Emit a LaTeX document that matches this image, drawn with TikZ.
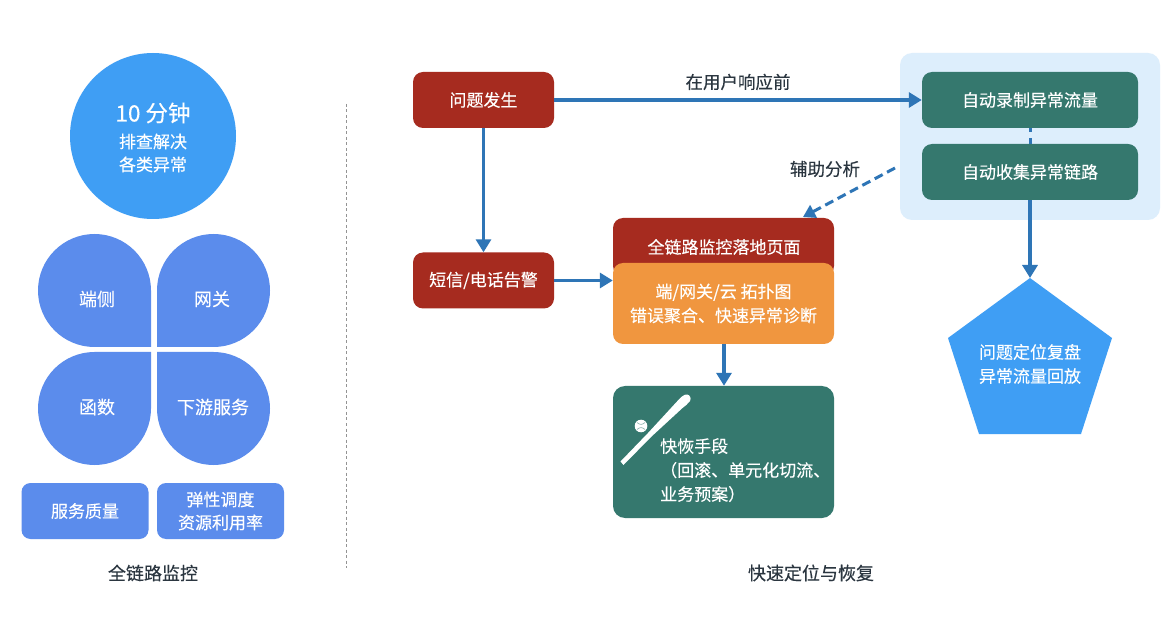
\documentclass[tikz,border=0pt]{standalone}
\usepackage{fontspec}
\setmainfont[FakeBold=0.25]{Noto Sans CJK SC}
\usetikzlibrary{arrows.meta}
\definecolor{skyblue}{HTML}{3F9EF4}
\definecolor{petal}{HTML}{5B8CEC}
\definecolor{brick}{HTML}{A62B1F}
\definecolor{amber}{HTML}{F0963F}
\definecolor{teal2}{HTML}{35786E}
\definecolor{panel}{HTML}{DDEEFC}
\definecolor{arrowblue}{HTML}{2E75B6}
\definecolor{inktext}{HTML}{2B3640}
\tikzset{
  lbl/.style={font=\fontsize{17}{24}\selectfont,text=white,align=center,inner sep=0pt},
  petallbl/.style={lbl,font=\fontsize{18}{24}\selectfont},
  dark/.style={font=\fontsize{18}{24}\selectfont,text=inktext,align=center,inner sep=0pt},
  rbox/.style={lbl,rounded corners=10pt,minimum height=56pt,minimum width=141pt},
  redbox/.style={rbox,fill=brick},
  greenbox/.style={rbox,fill=teal2,minimum width=216pt},
  smallbox/.style={rbox,fill=petal,minimum width=127pt,rounded corners=9pt},
  flow/.style={draw=arrowblue,line width=3.2pt,-{Triangle[length=13pt,width=15pt]}},
  petalshape/.style={fill=petal,draw=none}
}
\begin{document}
\begin{tikzpicture}[x=1pt,y=-1pt]
\useasboundingbox (0,0) rectangle (1176,620);
\fill[white] (0,0) rectangle (1176,620);
% left column
\node[circle,fill=skyblue,minimum size=166pt,inner sep=0pt] (goal) at (153,136) {};
\node[lbl,font=\fontsize{22.5}{26}\selectfont] (goalA) at (153,113) {10 分钟};
\node[lbl,font=\fontsize{17}{23}\selectfont] (goalB) at (153,153) {排查解决\\各类异常};
\path[petalshape] (151,347) -- (94.5,347) arc[start angle=270,end angle=0,radius=56.5pt] -- cycle;
\path[petalshape] (157,347) -- (157,290.5) arc[start angle=180,end angle=-90,radius=56.5pt] -- cycle;
\path[petalshape] (151,352) -- (151,408.5) arc[start angle=0,end angle=-270,radius=56.5pt] -- cycle;
\path[petalshape] (157,352) -- (213.5,352) arc[start angle=90,end angle=-180,radius=56.5pt] -- cycle;
\node[petallbl] (p1) at (97,299) {端侧};
\node[petallbl] (p2) at (212,299) {网关};
\node[petallbl] (p3) at (97,407) {函数};
\node[petallbl] (p4) at (213,407) {下游服务};
\node[smallbox] (q1) at (85,511) {服务质量};
\node[smallbox,font=\fontsize{17}{23}\selectfont] (q2) at (220.5,511) {弹性调度\\资源利用率};
\node[dark] (leftcap) at (153,573) {全链路监控};
\draw[draw=gray!85,line width=1.6pt,dash pattern=on 3pt off 2.5pt] (346.5,104) -- (346.5,568);
% right panel
\node[fill=panel,rounded corners=12pt,minimum width=260pt,minimum height=167pt,inner sep=0pt] (panelbg) at (1030,136.5) {};
\node[greenbox] (g1) at (1030,100) {自动录制异常流量};
\node[greenbox] (g2) at (1030,172) {自动收集异常链路};
% pentagon
\fill[skyblue] (1030,278) -- (1112,338) -- (1081,434) -- (979,434) -- (948,338) -- cycle;
\coordinate (pentop) at (1030,278);
\node[lbl] (pentext) at (1030,364) {问题定位复盘\\异常流量回放};
% flow boxes
\node[redbox] (r1) at (483.5,100) {问题发生};
\node[redbox] (r2) at (483.5,280.5) {短信/电话告警};
\node[rbox,fill=brick,minimum width=221pt,minimum height=58pt] (land) at (723.5,247) {};
\node[lbl] (landt) at (724,247) {全链路监控落地页面};
\node[rbox,fill=amber,minimum width=221pt,minimum height=81pt] (orange) at (723.5,303.5) {端/网关/云 拓扑图\\错误聚合、快速异常诊断};
\node[rbox,fill=teal2,minimum width=221pt,minimum height=132pt,rounded corners=12pt] (quick) at (723.5,452) {};
\node[lbl,align=left,anchor=north west] (quickt) at (660,438) {快恢手段\\（回滚、单元化切流、\\业务预案）};
% bat and ball
\fill[white,line join=round] (623.5,465) -- (620.5,461.5) -- (648,433) -- (677,401.5) .. controls (680,398) and (684,394) .. (687,394.5) .. controls (690,395) and (691.5,398) .. (690,401) .. controls (688,404) and (685,406) .. (682.5,408) -- (651,437) -- cycle;
\fill[white] (641,426) circle (6.3pt);
\draw[teal2!60,line width=.6pt] (637,422.5) .. controls (640,425) and (642,425) .. (645,422.5);
\draw[teal2!60,line width=.6pt] (637,429.5) .. controls (640,427) and (642,427) .. (645,429.5);
% connectors
\draw[flow] (r1.east) -- (g1.west);
\node[dark,font=\fontsize{17.5}{22}\selectfont] (before) at (738,82) {在用户响应前};
\draw[flow] (r1.south) -- (r2.north);
\draw[flow] (r2.east) -- (r2.east -| orange.west);
\draw[flow] (orange.south -| 724,344) -- (quick.north -| 724,386);
\draw[draw=arrowblue,line width=3pt,dash pattern=on 4pt off 6pt on 6pt off 0pt] (g1.south) -- (g2.north);
\draw[flow] (g2.south) -- (pentop);
\coordinate (dashstart) at (895,168);
\draw[draw=arrowblue,line width=3pt,dash pattern=on 9pt off 5pt,-{Triangle[length=12pt,width=14pt]}] (dashstart) -- (803,217);
\node[dark,font=\fontsize{17.5}{22}\selectfont] (assist) at (825,169) {辅助分析};
\node[dark] (rightcap) at (811,573) {快速定位与恢复};
\end{tikzpicture}
\end{document}
